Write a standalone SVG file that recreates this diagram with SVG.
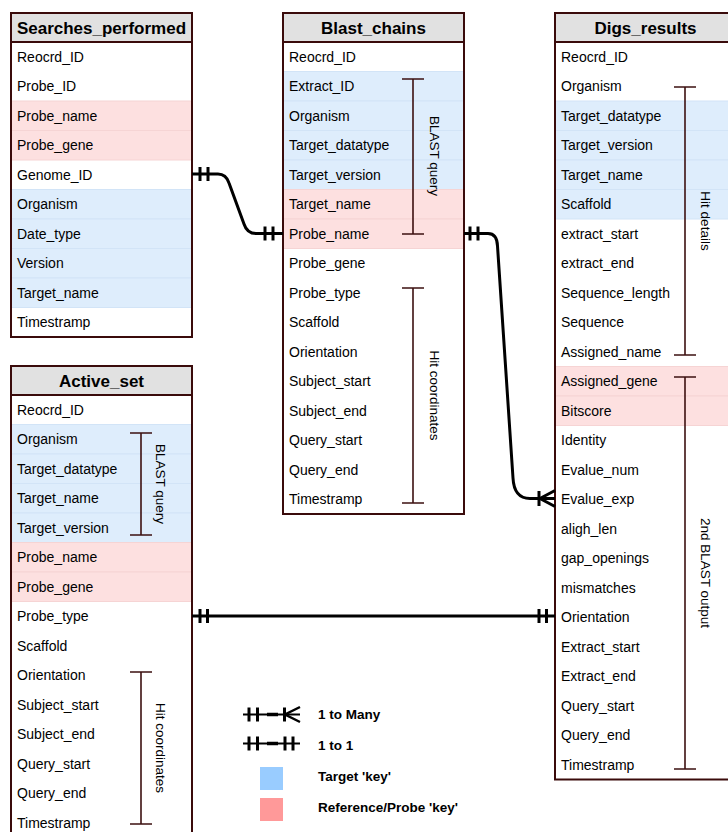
<svg xmlns="http://www.w3.org/2000/svg" width="728" height="832" viewBox="0 0 728 832">
<style>
  text { font-family: "Liberation Sans", Arial, sans-serif; fill: #000; }
  .hdr { font-size: 17px; font-weight: bold; text-anchor: middle; }
  .row { font-size: 14px; }
  .lbl { font-size: 13.5px; text-anchor: middle; }
  .leg { font-size: 13.5px; font-weight: bold; }
  .hbg { fill: #e1e1e1; }
  .box { fill: none; stroke: #3a0b0b; stroke-width: 2; }
  .hline { stroke: #3a0b0b; stroke-width: 2; }
  .blue { fill: #deedfc; stroke: #d2e4f7; stroke-width: 1; }
  .pink { fill: #fde0e0; stroke: #f6d4d4; stroke-width: 1; }
  .white { fill: #ffffff; }
  .brk { fill: none; stroke: #3d1111; stroke-width: 1.6; }
  .con { fill: none; stroke: #000; stroke-width: 3; stroke-linecap: butt; }
  .tick { stroke: #000; stroke-width: 3; }
</style>

<g id="searches_performed">
  <rect class="white" x="11" y="13" width="181" height="324"/>
  <rect class="hbg" x="11" y="13" width="181" height="29"/>
  <rect class="pink" x="11" y="101" width="181" height="29.5"/>
  <rect class="pink" x="11" y="130.5" width="181" height="29.5"/>
  <rect class="blue" x="11" y="189.5" width="181" height="29.5"/>
  <rect class="blue" x="11" y="219" width="181" height="29.5"/>
  <rect class="blue" x="11" y="248.5" width="181" height="29.5"/>
  <rect class="blue" x="11" y="278" width="181" height="29.5"/>
  <line class="hline" x1="11" y1="42" x2="192" y2="42"/>
  <rect class="box" x="11" y="13" width="181" height="324"/>
  <text class="hdr" x="101.5" y="34">Searches_performed</text>
  <text class="row" x="17" y="61.75">Reocrd_ID</text>
  <text class="row" x="17" y="91.25">Probe_ID</text>
  <text class="row" x="17" y="120.75">Probe_name</text>
  <text class="row" x="17" y="150.25">Probe_gene</text>
  <text class="row" x="17" y="179.75">Genome_ID</text>
  <text class="row" x="17" y="209.25">Organism</text>
  <text class="row" x="17" y="238.75">Date_type</text>
  <text class="row" x="17" y="268.25">Version</text>
  <text class="row" x="17" y="297.75">Target_name</text>
  <text class="row" x="17" y="327.25">Timestramp</text>
</g>

<g id="blast_chains">
  <rect class="white" x="283" y="13" width="181" height="501"/>
  <rect class="hbg" x="283" y="13" width="181" height="29"/>
  <rect class="blue" x="283" y="71.5" width="181" height="29.5"/>
  <rect class="blue" x="283" y="101" width="181" height="29.5"/>
  <rect class="blue" x="283" y="130.5" width="181" height="29.5"/>
  <rect class="blue" x="283" y="160" width="181" height="29.5"/>
  <rect class="pink" x="283" y="189.5" width="181" height="29.5"/>
  <rect class="pink" x="283" y="219" width="181" height="29.5"/>
  <line class="hline" x1="283" y1="42" x2="464" y2="42"/>
  <rect class="box" x="283" y="13" width="181" height="501"/>
  <text class="hdr" x="373.5" y="34">Blast_chains</text>
  <text class="row" x="289" y="61.75">Reocrd_ID</text>
  <text class="row" x="289" y="91.25">Extract_ID</text>
  <text class="row" x="289" y="120.75">Organism</text>
  <text class="row" x="289" y="150.25">Target_datatype</text>
  <text class="row" x="289" y="179.75">Target_version</text>
  <text class="row" x="289" y="209.25">Target_name</text>
  <text class="row" x="289" y="238.75">Probe_name</text>
  <text class="row" x="289" y="268.25">Probe_gene</text>
  <text class="row" x="289" y="297.75">Probe_type</text>
  <text class="row" x="289" y="327.25">Scaffold</text>
  <text class="row" x="289" y="356.75">Orientation</text>
  <text class="row" x="289" y="386.25">Subject_start</text>
  <text class="row" x="289" y="415.75">Subject_end</text>
  <text class="row" x="289" y="445.25">Query_start</text>
  <text class="row" x="289" y="474.75">Query_end</text>
  <text class="row" x="289" y="504.25">Timestramp</text>
  <path class="brk" d="M402,79 H424 M413,79 V234 M402,234 H424"/>
  <text class="lbl" transform="translate(430,156) rotate(90)">BLAST query</text>
  <path class="brk" d="M402,288 H424 M413,288 V503 M402,503 H424"/>
  <text class="lbl" transform="translate(430,395.5) rotate(90)">Hit coordinates</text>
</g>

<g id="digs_results">
  <rect class="white" x="555" y="13" width="181" height="766.5"/>
  <rect class="hbg" x="555" y="13" width="181" height="29"/>
  <rect class="blue" x="555" y="101" width="181" height="29.5"/>
  <rect class="blue" x="555" y="130.5" width="181" height="29.5"/>
  <rect class="blue" x="555" y="160" width="181" height="29.5"/>
  <rect class="blue" x="555" y="189.5" width="181" height="29.5"/>
  <rect class="pink" x="555" y="366.5" width="181" height="29.5"/>
  <rect class="pink" x="555" y="396" width="181" height="29.5"/>
  <line class="hline" x1="555" y1="42" x2="736" y2="42"/>
  <rect class="box" x="555" y="13" width="181" height="766.5"/>
  <text class="hdr" x="645.5" y="34">Digs_results</text>
  <text class="row" x="561" y="61.75">Reocrd_ID</text>
  <text class="row" x="561" y="91.25">Organism</text>
  <text class="row" x="561" y="120.75">Target_datatype</text>
  <text class="row" x="561" y="150.25">Target_version</text>
  <text class="row" x="561" y="179.75">Target_name</text>
  <text class="row" x="561" y="209.25">Scaffold</text>
  <text class="row" x="561" y="238.75">extract_start</text>
  <text class="row" x="561" y="268.25">extract_end</text>
  <text class="row" x="561" y="297.75">Sequence_length</text>
  <text class="row" x="561" y="327.25">Sequence</text>
  <text class="row" x="561" y="356.75">Assigned_name</text>
  <text class="row" x="561" y="386.25">Assigned_gene</text>
  <text class="row" x="561" y="415.75">Bitscore</text>
  <text class="row" x="561" y="445.25">Identity</text>
  <text class="row" x="561" y="474.75">Evalue_num</text>
  <text class="row" x="561" y="504.25">Evalue_exp</text>
  <text class="row" x="561" y="533.75">aligh_len</text>
  <text class="row" x="561" y="563.25">gap_openings</text>
  <text class="row" x="561" y="592.75">mismatches</text>
  <text class="row" x="561" y="622.25">Orientation</text>
  <text class="row" x="561" y="651.75">Extract_start</text>
  <text class="row" x="561" y="681.25">Extract_end</text>
  <text class="row" x="561" y="710.75">Query_start</text>
  <text class="row" x="561" y="740.25">Query_end</text>
  <text class="row" x="561" y="769.75">Timestramp</text>
  <path class="brk" d="M674,87 H696 M685,87 V355 M674,355 H696"/>
  <text class="lbl" transform="translate(701,221) rotate(90)">Hit details</text>
  <path class="brk" d="M674,377 H696 M685,377 V769 M674,769 H696"/>
  <text class="lbl" transform="translate(701,573) rotate(90)">2nd BLAST output</text>
</g>

<g id="active_set">
  <rect class="white" x="11" y="366" width="181" height="480"/>
  <rect class="hbg" x="11" y="366" width="181" height="29"/>
  <rect class="blue" x="11" y="424.5" width="181" height="29.5"/>
  <rect class="blue" x="11" y="454" width="181" height="29.5"/>
  <rect class="blue" x="11" y="483.5" width="181" height="29.5"/>
  <rect class="blue" x="11" y="513" width="181" height="29.5"/>
  <rect class="pink" x="11" y="542.5" width="181" height="29.5"/>
  <rect class="pink" x="11" y="572" width="181" height="29.5"/>
  <line class="hline" x1="11" y1="395" x2="192" y2="395"/>
  <rect class="box" x="11" y="366" width="181" height="480"/>
  <text class="hdr" x="101.5" y="387">Active_set</text>
  <text class="row" x="17" y="414.75">Reocrd_ID</text>
  <text class="row" x="17" y="444.25">Organism</text>
  <text class="row" x="17" y="473.75">Target_datatype</text>
  <text class="row" x="17" y="503.25">Target_name</text>
  <text class="row" x="17" y="532.75">Target_version</text>
  <text class="row" x="17" y="562.25">Probe_name</text>
  <text class="row" x="17" y="591.75">Probe_gene</text>
  <text class="row" x="17" y="621.25">Probe_type</text>
  <text class="row" x="17" y="650.75">Scaffold</text>
  <text class="row" x="17" y="680.25">Orientation</text>
  <text class="row" x="17" y="709.75">Subject_start</text>
  <text class="row" x="17" y="739.25">Subject_end</text>
  <text class="row" x="17" y="768.75">Query_start</text>
  <text class="row" x="17" y="798.25">Query_end</text>
  <text class="row" x="17" y="827.75">Timestramp</text>
  <path class="brk" d="M130,433 H152 M141,433 V535 M130,535 H152"/>
  <text class="lbl" transform="translate(156,484) rotate(90)">BLAST query</text>
  <path class="brk" d="M130,672 H152 M141,672 V824 M130,824 H152"/>
  <text class="lbl" transform="translate(156,748) rotate(90)">Hit coordinates</text>
</g>

<g id="connectors">
  <path class="con" d="M192,174 L218,174 Q226,174 229,183 L244,224 Q247,233.5 256,233.5 L283,233.5"/>
  <line class="tick" x1="200" y1="167" x2="200" y2="181"/>
  <line class="tick" x1="208" y1="167" x2="208" y2="181"/>
  <line class="tick" x1="265" y1="226.5" x2="265" y2="240.5"/>
  <line class="tick" x1="273" y1="226.5" x2="273" y2="240.5"/>

  <path class="con" d="M464,233.5 L488,233.5 Q497,233.5 497.5,246 L513,478 Q514,498.5 530,498.5 L555,498.5"/>
  <line class="tick" x1="470" y1="226.5" x2="470" y2="240.5"/>
  <line class="tick" x1="478" y1="226.5" x2="478" y2="240.5"/>
  <line class="tick" x1="539" y1="491" x2="539" y2="506"/>
  <path class="con" d="M555,490.5 L540,498.5 L555,506.5"/>

  <line class="con" x1="192" y1="616" x2="555" y2="616"/>
  <line class="tick" x1="200" y1="609" x2="200" y2="623"/>
  <line class="tick" x1="207.5" y1="609" x2="207.5" y2="623"/>
  <line class="tick" x1="539" y1="609" x2="539" y2="623"/>
  <line class="tick" x1="546.5" y1="609" x2="546.5" y2="623"/>
</g>

<g id="legend">
  <line x1="243" y1="714.5" x2="300" y2="714.5" stroke="#000" stroke-width="2"/>
  <line x1="267" y1="714.5" x2="278" y2="714.5" stroke="#000" stroke-width="3.5"/>
  <line class="tick" x1="249" y1="707.5" x2="249" y2="721.5"/>
  <line class="tick" x1="257.5" y1="707.5" x2="257.5" y2="721.5"/>
  <line class="tick" x1="284.5" y1="707.5" x2="284.5" y2="721.5"/>
  <path d="M300,707 L285,714.5 L300,722" fill="none" stroke="#000" stroke-width="2.5"/>
  <text class="leg" x="318" y="719">1 to Many</text>

  <line x1="243" y1="743.5" x2="300" y2="743.5" stroke="#000" stroke-width="2"/>
  <line x1="267" y1="743.5" x2="278" y2="743.5" stroke="#000" stroke-width="3.5"/>
  <line class="tick" x1="249" y1="736.5" x2="249" y2="750.5"/>
  <line class="tick" x1="257.5" y1="736.5" x2="257.5" y2="750.5"/>
  <line class="tick" x1="285" y1="736.5" x2="285" y2="750.5"/>
  <line class="tick" x1="293" y1="736.5" x2="293" y2="750.5"/>
  <text class="leg" x="318" y="750">1 to 1</text>

  <rect x="260" y="767" width="23" height="23" fill="#99ccff"/>
  <text class="leg" x="318" y="781">Target 'key'</text>
  <rect x="260" y="798" width="23" height="23" fill="#ff9999"/>
  <text class="leg" x="318" y="812">Reference/Probe 'key'</text>
</g>
</svg>
